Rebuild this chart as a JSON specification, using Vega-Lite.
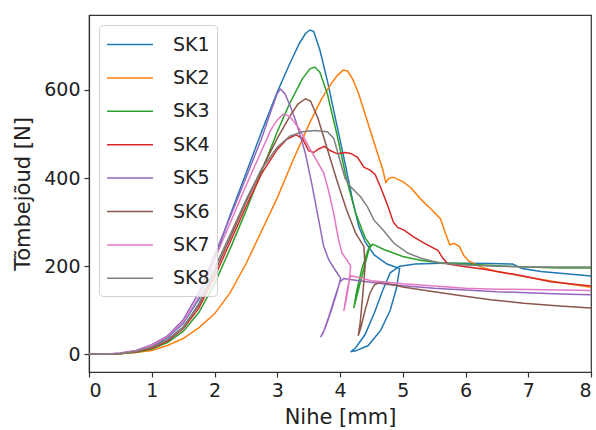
{
  "$schema": "https://vega.github.io/schema/vega-lite/v6.json",
  "width": 502,
  "height": 357,
  "autosize": "none",
  "padding": {"left": 89, "top": 15, "right": 5, "bottom": 58},
  "background": "white",
  "config": {
    "view": {"stroke": "#333", "strokeWidth": 1.2},
    "font": "DejaVu Sans",
    "axis": {
      "grid": false,
      "domainColor": "#333",
      "domainWidth": 1.2,
      "tickColor": "#333",
      "tickSize": 5,
      "tickWidth": 1.2,
      "labelFont": "DejaVu Sans",
      "labelFontSize": 19,
      "labelColor": "#222",
      "titleFont": "DejaVu Sans",
      "titleFontSize": 21,
      "titleFontWeight": "normal",
      "titleColor": "#222"
    }
  },
  "data": {"values": [
    {"s":"SK1","i":0,"x":0,"y":0},{"s":"SK1","i":1,"x":0.25,"y":0.5},{"s":"SK1","i":2,"x":0.5,"y":2},{"s":"SK1","i":3,"x":0.75,"y":8},{"s":"SK1","i":4,"x":1,"y":18},{"s":"SK1","i":5,"x":1.25,"y":38},{"s":"SK1","i":6,"x":1.5,"y":70},{"s":"SK1","i":7,"x":1.75,"y":125},{"s":"SK1","i":8,"x":2,"y":215},{"s":"SK1","i":9,"x":2.25,"y":316},{"s":"SK1","i":10,"x":2.5,"y":410},{"s":"SK1","i":11,"x":2.75,"y":505},{"s":"SK1","i":12,"x":3,"y":595},{"s":"SK1","i":13,"x":3.2,"y":660},{"s":"SK1","i":14,"x":3.35,"y":705},{"s":"SK1","i":15,"x":3.45,"y":728},{"s":"SK1","i":16,"x":3.52,"y":736},{"s":"SK1","i":17,"x":3.58,"y":733},{"s":"SK1","i":18,"x":3.68,"y":690},{"s":"SK1","i":19,"x":3.8,"y":620},{"s":"SK1","i":20,"x":3.95,"y":520},{"s":"SK1","i":21,"x":4.1,"y":420},{"s":"SK1","i":22,"x":4.2,"y":350},{"s":"SK1","i":23,"x":4.3,"y":290},{"s":"SK1","i":24,"x":4.4,"y":255},{"s":"SK1","i":25,"x":4.55,"y":225},{"s":"SK1","i":26,"x":4.75,"y":205},{"s":"SK1","i":27,"x":4.95,"y":195},{"s":"SK1","i":28,"x":4.9,"y":150},{"s":"SK1","i":29,"x":4.8,"y":100},{"s":"SK1","i":30,"x":4.65,"y":55},{"s":"SK1","i":31,"x":4.45,"y":20},{"s":"SK1","i":32,"x":4.25,"y":8},{"s":"SK1","i":33,"x":4.17,"y":6},{"s":"SK1","i":34,"x":4.25,"y":15},{"s":"SK1","i":35,"x":4.4,"y":45},{"s":"SK1","i":36,"x":4.55,"y":95},{"s":"SK1","i":37,"x":4.68,"y":145},{"s":"SK1","i":38,"x":4.8,"y":185},{"s":"SK1","i":39,"x":4.95,"y":200},{"s":"SK1","i":40,"x":5.2,"y":205},{"s":"SK1","i":41,"x":5.6,"y":207},{"s":"SK1","i":42,"x":6,"y":207},{"s":"SK1","i":43,"x":6.4,"y":206},{"s":"SK1","i":44,"x":6.75,"y":205},{"s":"SK1","i":45,"x":6.9,"y":195},{"s":"SK1","i":46,"x":7.2,"y":188},{"s":"SK1","i":47,"x":7.6,"y":183},{"s":"SK1","i":48,"x":8,"y":178},

    {"s":"SK2","i":0,"x":0,"y":0},{"s":"SK2","i":1,"x":0.25,"y":0.3},{"s":"SK2","i":2,"x":0.5,"y":1.5},{"s":"SK2","i":3,"x":0.75,"y":4},{"s":"SK2","i":4,"x":1,"y":9},{"s":"SK2","i":5,"x":1.25,"y":20},{"s":"SK2","i":6,"x":1.5,"y":36},{"s":"SK2","i":7,"x":1.75,"y":60},{"s":"SK2","i":8,"x":2,"y":92},{"s":"SK2","i":9,"x":2.25,"y":140},{"s":"SK2","i":10,"x":2.5,"y":205},{"s":"SK2","i":11,"x":2.75,"y":280},{"s":"SK2","i":12,"x":3,"y":355},{"s":"SK2","i":13,"x":3.25,"y":440},{"s":"SK2","i":14,"x":3.5,"y":520},{"s":"SK2","i":15,"x":3.7,"y":578},{"s":"SK2","i":16,"x":3.85,"y":612},{"s":"SK2","i":17,"x":3.95,"y":632},{"s":"SK2","i":18,"x":4.05,"y":645},{"s":"SK2","i":19,"x":4.12,"y":643},{"s":"SK2","i":20,"x":4.2,"y":625},{"s":"SK2","i":21,"x":4.3,"y":590},{"s":"SK2","i":22,"x":4.4,"y":545},{"s":"SK2","i":23,"x":4.5,"y":500},{"s":"SK2","i":24,"x":4.6,"y":455},{"s":"SK2","i":25,"x":4.68,"y":420},{"s":"SK2","i":26,"x":4.73,"y":390},{"s":"SK2","i":27,"x":4.78,"y":400},{"s":"SK2","i":28,"x":4.85,"y":402},{"s":"SK2","i":29,"x":5,"y":392},{"s":"SK2","i":30,"x":5.13,"y":378},{"s":"SK2","i":31,"x":5.3,"y":350},{"s":"SK2","i":32,"x":5.45,"y":330},{"s":"SK2","i":33,"x":5.6,"y":308},{"s":"SK2","i":34,"x":5.68,"y":275},{"s":"SK2","i":35,"x":5.75,"y":248},{"s":"SK2","i":36,"x":5.82,"y":252},{"s":"SK2","i":37,"x":5.9,"y":245},{"s":"SK2","i":38,"x":5.97,"y":225},{"s":"SK2","i":39,"x":6.05,"y":212},{"s":"SK2","i":40,"x":6.25,"y":198},{"s":"SK2","i":41,"x":6.5,"y":188},{"s":"SK2","i":42,"x":7,"y":175},{"s":"SK2","i":43,"x":7.5,"y":163},{"s":"SK2","i":44,"x":8,"y":152},

    {"s":"SK3","i":0,"x":0,"y":0},{"s":"SK3","i":1,"x":0.25,"y":0.3},{"s":"SK3","i":2,"x":0.5,"y":1.5},{"s":"SK3","i":3,"x":0.75,"y":5},{"s":"SK3","i":4,"x":1,"y":12},{"s":"SK3","i":5,"x":1.25,"y":27},{"s":"SK3","i":6,"x":1.5,"y":52},{"s":"SK3","i":7,"x":1.75,"y":95},{"s":"SK3","i":8,"x":2,"y":160},{"s":"SK3","i":9,"x":2.25,"y":240},{"s":"SK3","i":10,"x":2.5,"y":325},{"s":"SK3","i":11,"x":2.75,"y":415},{"s":"SK3","i":12,"x":3,"y":505},{"s":"SK3","i":13,"x":3.2,"y":570},{"s":"SK3","i":14,"x":3.4,"y":625},{"s":"SK3","i":15,"x":3.52,"y":648},{"s":"SK3","i":16,"x":3.6,"y":652},{"s":"SK3","i":17,"x":3.68,"y":640},{"s":"SK3","i":18,"x":3.8,"y":590},{"s":"SK3","i":19,"x":3.95,"y":500},{"s":"SK3","i":20,"x":4.1,"y":400},{"s":"SK3","i":21,"x":4.25,"y":320},{"s":"SK3","i":22,"x":4.4,"y":265},{"s":"SK3","i":23,"x":4.48,"y":248},{"s":"SK3","i":24,"x":4.4,"y":205},{"s":"SK3","i":25,"x":4.3,"y":150},{"s":"SK3","i":26,"x":4.22,"y":105},{"s":"SK3","i":27,"x":4.26,"y":140},{"s":"SK3","i":28,"x":4.35,"y":195},{"s":"SK3","i":29,"x":4.45,"y":238},{"s":"SK3","i":30,"x":4.52,"y":250},{"s":"SK3","i":31,"x":4.7,"y":238},{"s":"SK3","i":32,"x":5,"y":222},{"s":"SK3","i":33,"x":5.3,"y":213},{"s":"SK3","i":34,"x":5.6,"y":208},{"s":"SK3","i":35,"x":6,"y":205},{"s":"SK3","i":36,"x":6.5,"y":201},{"s":"SK3","i":37,"x":7,"y":198},{"s":"SK3","i":38,"x":7.5,"y":196},{"s":"SK3","i":39,"x":8,"y":196},

    {"s":"SK4","i":0,"x":0,"y":0},{"s":"SK4","i":1,"x":0.25,"y":0.4},{"s":"SK4","i":2,"x":0.5,"y":2},{"s":"SK4","i":3,"x":0.75,"y":6},{"s":"SK4","i":4,"x":1,"y":14},{"s":"SK4","i":5,"x":1.25,"y":30},{"s":"SK4","i":6,"x":1.5,"y":58},{"s":"SK4","i":7,"x":1.75,"y":105},{"s":"SK4","i":8,"x":2,"y":175},{"s":"SK4","i":9,"x":2.25,"y":255},{"s":"SK4","i":10,"x":2.5,"y":335},{"s":"SK4","i":11,"x":2.75,"y":410},{"s":"SK4","i":12,"x":3,"y":465},{"s":"SK4","i":13,"x":3.15,"y":488},{"s":"SK4","i":14,"x":3.3,"y":498},{"s":"SK4","i":15,"x":3.4,"y":490},{"s":"SK4","i":16,"x":3.5,"y":462},{"s":"SK4","i":17,"x":3.58,"y":458},{"s":"SK4","i":18,"x":3.66,"y":466},{"s":"SK4","i":19,"x":3.75,"y":472},{"s":"SK4","i":20,"x":3.85,"y":462},{"s":"SK4","i":21,"x":3.96,"y":455},{"s":"SK4","i":22,"x":4.08,"y":458},{"s":"SK4","i":23,"x":4.17,"y":456},{"s":"SK4","i":24,"x":4.28,"y":447},{"s":"SK4","i":25,"x":4.38,"y":425},{"s":"SK4","i":26,"x":4.48,"y":418},{"s":"SK4","i":27,"x":4.56,"y":408},{"s":"SK4","i":28,"x":4.65,"y":378},{"s":"SK4","i":29,"x":4.76,"y":338},{"s":"SK4","i":30,"x":4.85,"y":300},{"s":"SK4","i":31,"x":4.92,"y":288},{"s":"SK4","i":32,"x":5.02,"y":282},{"s":"SK4","i":33,"x":5.18,"y":266},{"s":"SK4","i":34,"x":5.3,"y":256},{"s":"SK4","i":35,"x":5.4,"y":248},{"s":"SK4","i":36,"x":5.56,"y":236},{"s":"SK4","i":37,"x":5.64,"y":218},{"s":"SK4","i":38,"x":5.72,"y":205},{"s":"SK4","i":39,"x":6,"y":199},{"s":"SK4","i":40,"x":6.3,"y":193},{"s":"SK4","i":41,"x":6.84,"y":180},{"s":"SK4","i":42,"x":7.36,"y":165},{"s":"SK4","i":43,"x":8,"y":155},

    {"s":"SK5","i":0,"x":0,"y":0},{"s":"SK5","i":1,"x":0.25,"y":0.5},{"s":"SK5","i":2,"x":0.5,"y":3},{"s":"SK5","i":3,"x":0.75,"y":9},{"s":"SK5","i":4,"x":1,"y":22},{"s":"SK5","i":5,"x":1.25,"y":42},{"s":"SK5","i":6,"x":1.5,"y":78},{"s":"SK5","i":7,"x":1.75,"y":140},{"s":"SK5","i":8,"x":2,"y":225},{"s":"SK5","i":9,"x":2.25,"y":312},{"s":"SK5","i":10,"x":2.5,"y":400},{"s":"SK5","i":11,"x":2.75,"y":490},{"s":"SK5","i":12,"x":2.9,"y":552},{"s":"SK5","i":13,"x":3,"y":592},{"s":"SK5","i":14,"x":3.05,"y":602},{"s":"SK5","i":15,"x":3.12,"y":592},{"s":"SK5","i":16,"x":3.2,"y":566},{"s":"SK5","i":17,"x":3.29,"y":532},{"s":"SK5","i":18,"x":3.38,"y":490},{"s":"SK5","i":19,"x":3.45,"y":455},{"s":"SK5","i":20,"x":3.56,"y":380},{"s":"SK5","i":21,"x":3.66,"y":305},{"s":"SK5","i":22,"x":3.74,"y":245},{"s":"SK5","i":23,"x":3.82,"y":215},{"s":"SK5","i":24,"x":3.92,"y":192},{"s":"SK5","i":25,"x":4.01,"y":173},{"s":"SK5","i":26,"x":3.95,"y":140},{"s":"SK5","i":27,"x":3.85,"y":95},{"s":"SK5","i":28,"x":3.76,"y":58},{"s":"SK5","i":29,"x":3.69,"y":39},{"s":"SK5","i":30,"x":3.73,"y":48},{"s":"SK5","i":31,"x":3.82,"y":85},{"s":"SK5","i":32,"x":3.92,"y":130},{"s":"SK5","i":33,"x":4,"y":165},{"s":"SK5","i":34,"x":4.06,"y":172},{"s":"SK5","i":35,"x":4.3,"y":167},{"s":"SK5","i":36,"x":4.8,"y":158},{"s":"SK5","i":37,"x":5.5,"y":150},{"s":"SK5","i":38,"x":6,"y":146},{"s":"SK5","i":39,"x":6.5,"y":142},{"s":"SK5","i":40,"x":7,"y":140},{"s":"SK5","i":41,"x":7.5,"y":137},{"s":"SK5","i":42,"x":8,"y":135},

    {"s":"SK6","i":0,"x":0,"y":0},{"s":"SK6","i":1,"x":0.25,"y":0.4},{"s":"SK6","i":2,"x":0.5,"y":2},{"s":"SK6","i":3,"x":0.75,"y":7},{"s":"SK6","i":4,"x":1,"y":16},{"s":"SK6","i":5,"x":1.25,"y":33},{"s":"SK6","i":6,"x":1.5,"y":62},{"s":"SK6","i":7,"x":1.75,"y":112},{"s":"SK6","i":8,"x":2,"y":185},{"s":"SK6","i":9,"x":2.25,"y":265},{"s":"SK6","i":10,"x":2.5,"y":345},{"s":"SK6","i":11,"x":2.75,"y":420},{"s":"SK6","i":12,"x":3,"y":490},{"s":"SK6","i":13,"x":3.2,"y":540},{"s":"SK6","i":14,"x":3.33,"y":568},{"s":"SK6","i":15,"x":3.45,"y":580},{"s":"SK6","i":16,"x":3.53,"y":575},{"s":"SK6","i":17,"x":3.65,"y":535},{"s":"SK6","i":18,"x":3.8,"y":465},{"s":"SK6","i":19,"x":3.95,"y":395},{"s":"SK6","i":20,"x":4.1,"y":330},{"s":"SK6","i":21,"x":4.25,"y":275},{"s":"SK6","i":22,"x":4.38,"y":245},{"s":"SK6","i":23,"x":4.4,"y":200},{"s":"SK6","i":24,"x":4.36,"y":130},{"s":"SK6","i":25,"x":4.32,"y":70},{"s":"SK6","i":26,"x":4.29,"y":42},{"s":"SK6","i":27,"x":4.33,"y":60},{"s":"SK6","i":28,"x":4.4,"y":100},{"s":"SK6","i":29,"x":4.48,"y":140},{"s":"SK6","i":30,"x":4.55,"y":158},{"s":"SK6","i":31,"x":4.65,"y":164},{"s":"SK6","i":32,"x":5,"y":153},{"s":"SK6","i":33,"x":5.5,"y":142},{"s":"SK6","i":34,"x":5.88,"y":134},{"s":"SK6","i":35,"x":6.4,"y":124},{"s":"SK6","i":36,"x":6.93,"y":116},{"s":"SK6","i":37,"x":7.5,"y":110},{"s":"SK6","i":38,"x":8,"y":105},

    {"s":"SK7","i":0,"x":0,"y":0},{"s":"SK7","i":1,"x":0.25,"y":0.5},{"s":"SK7","i":2,"x":0.5,"y":2.5},{"s":"SK7","i":3,"x":0.75,"y":8},{"s":"SK7","i":4,"x":1,"y":20},{"s":"SK7","i":5,"x":1.25,"y":40},{"s":"SK7","i":6,"x":1.5,"y":72},{"s":"SK7","i":7,"x":1.75,"y":130},{"s":"SK7","i":8,"x":2,"y":215},{"s":"SK7","i":9,"x":2.25,"y":298},{"s":"SK7","i":10,"x":2.5,"y":382},{"s":"SK7","i":11,"x":2.75,"y":462},{"s":"SK7","i":12,"x":2.9,"y":510},{"s":"SK7","i":13,"x":3,"y":532},{"s":"SK7","i":14,"x":3.1,"y":545},{"s":"SK7","i":15,"x":3.2,"y":540},{"s":"SK7","i":16,"x":3.35,"y":512},{"s":"SK7","i":17,"x":3.5,"y":472},{"s":"SK7","i":18,"x":3.62,"y":442},{"s":"SK7","i":19,"x":3.74,"y":412},{"s":"SK7","i":20,"x":3.82,"y":370},{"s":"SK7","i":21,"x":3.9,"y":320},{"s":"SK7","i":22,"x":3.97,"y":265},{"s":"SK7","i":23,"x":4.03,"y":230},{"s":"SK7","i":24,"x":4.12,"y":212},{"s":"SK7","i":25,"x":4.17,"y":200},{"s":"SK7","i":26,"x":4.14,"y":160},{"s":"SK7","i":27,"x":4.1,"y":125},{"s":"SK7","i":28,"x":4.06,"y":98},{"s":"SK7","i":29,"x":4.08,"y":115},{"s":"SK7","i":30,"x":4.12,"y":150},{"s":"SK7","i":31,"x":4.17,"y":178},{"s":"SK7","i":32,"x":4.25,"y":176},{"s":"SK7","i":33,"x":4.5,"y":167},{"s":"SK7","i":34,"x":5,"y":160},{"s":"SK7","i":35,"x":5.5,"y":155},{"s":"SK7","i":36,"x":6,"y":150},{"s":"SK7","i":37,"x":6.5,"y":148},{"s":"SK7","i":38,"x":7,"y":147},{"s":"SK7","i":39,"x":7.5,"y":146},{"s":"SK7","i":40,"x":8,"y":145},

    {"s":"SK8","i":0,"x":0,"y":0},{"s":"SK8","i":1,"x":0.25,"y":0.4},{"s":"SK8","i":2,"x":0.5,"y":2},{"s":"SK8","i":3,"x":0.75,"y":7},{"s":"SK8","i":4,"x":1,"y":16},{"s":"SK8","i":5,"x":1.25,"y":33},{"s":"SK8","i":6,"x":1.5,"y":60},{"s":"SK8","i":7,"x":1.75,"y":115},{"s":"SK8","i":8,"x":2,"y":195},{"s":"SK8","i":9,"x":2.25,"y":272},{"s":"SK8","i":10,"x":2.5,"y":350},{"s":"SK8","i":11,"x":2.75,"y":420},{"s":"SK8","i":12,"x":3,"y":470},{"s":"SK8","i":13,"x":3.2,"y":495},{"s":"SK8","i":14,"x":3.4,"y":505},{"s":"SK8","i":15,"x":3.6,"y":508},{"s":"SK8","i":16,"x":3.8,"y":505},{"s":"SK8","i":17,"x":3.9,"y":490},{"s":"SK8","i":18,"x":4,"y":440},{"s":"SK8","i":19,"x":4.08,"y":400},{"s":"SK8","i":20,"x":4.17,"y":380},{"s":"SK8","i":21,"x":4.33,"y":357},{"s":"SK8","i":22,"x":4.44,"y":334},{"s":"SK8","i":23,"x":4.54,"y":305},{"s":"SK8","i":24,"x":4.7,"y":280},{"s":"SK8","i":25,"x":4.86,"y":252},{"s":"SK8","i":26,"x":5.08,"y":230},{"s":"SK8","i":27,"x":5.29,"y":218},{"s":"SK8","i":28,"x":5.6,"y":207},{"s":"SK8","i":29,"x":6,"y":203},{"s":"SK8","i":30,"x":6.5,"y":200},{"s":"SK8","i":31,"x":7,"y":198},{"s":"SK8","i":32,"x":7.5,"y":198},{"s":"SK8","i":33,"x":8,"y":198}
  ]},
  "mark": {"type": "line", "strokeWidth": 1.5, "clip": true},
  "encoding": {
    "x": {
      "field": "x", "type": "quantitative",
      "scale": {"domain": [0, 8], "nice": false, "zero": false},
      "axis": {"title": "Nihe [mm]", "values": [0,1,2,3,4,5,6,7,8], "format": "d", "labelPadding": 4, "titlePadding": 6}
    },
    "y": {
      "field": "y", "type": "quantitative",
      "scale": {"domain": [-40, 770], "nice": false, "zero": false},
      "axis": {"title": "Tõmbejõud [N]", "values": [0,200,400,600], "format": "d", "labelPadding": 4, "titlePadding": 10}
    },
    "color": {
      "field": "s", "type": "nominal",
      "scale": {"domain": ["SK1","SK2","SK3","SK4","SK5","SK6","SK7","SK8"],
                "range": ["#1f77b4","#ff7f0e","#2ca02c","#d62728","#9467bd","#8c564b","#e377c2","#7f7f7f"]},
      "legend": {
        "title": null,
        "orient": "none",
        "legendX": 10,
        "legendY": 10,
        "symbolType": "M-1,0H3",
        "symbolSize": 529,
        "symbolStrokeWidth": 1.5,
        "labelFontSize": 19,
        "labelFont": "DejaVu Sans",
        "labelColor": "#222",
        "labelOffset": 42,
        "rowPadding": 10.4,
        "padding": 7,
        "fillColor": "rgba(255,255,255,0.8)",
        "strokeColor": "#d0d0d0",
        "cornerRadius": 4
      }
    },
    "order": {"field": "i", "type": "quantitative"}
  }
}
